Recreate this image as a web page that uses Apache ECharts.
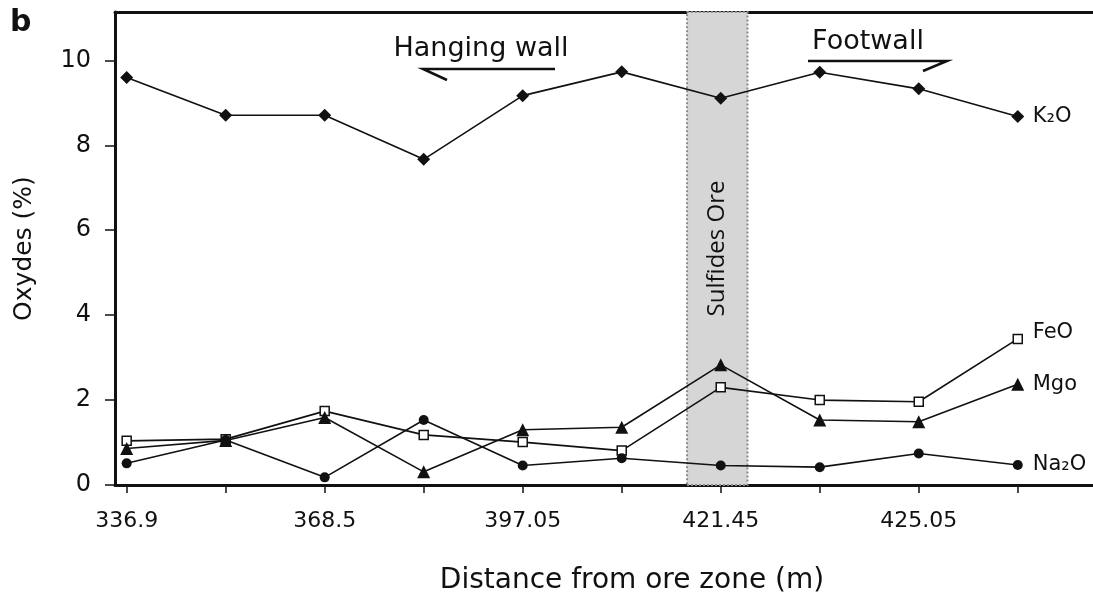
<!DOCTYPE html>
<html>
<head>
<meta charset="utf-8">
<script src="https://cdn.jsdelivr.net/npm/echarts@6/dist/echarts.min.js"></script>
<style>
  html, body { margin: 0; padding: 0; background: #fff; }
  #chart { width: 1093px; height: 596px; }
</style>
</head>
<body>
<div id="chart"></div>
<script>
// sample positions along the profile (one per analysed sample)
const samples = [0, 1, 2, 3, 4, 5, 6, 7, 8, 9]
// distance labels, only every other sample is labelled
const tickLabels = ['336.9', '', '368.5', '', '397.05', '', '421.45', '', '425.05', '']
const labelledSamples = [0, 2, 4, 6, 8]

const k2o = [9.60, 8.71, 8.71, 7.67, 9.17, 9.73, 9.11, 9.72, 9.33, 8.68]
const feo = [1.04, 1.08, 1.74, 1.18, 1.01, 0.81, 2.30, 2.00, 1.96, 3.44]
const mgo = [0.86, 1.05, 1.59, 0.31, 1.30, 1.36, 2.83, 1.53, 1.49, 2.37]
const na2o = [0.51, 1.06, 0.18, 1.53, 0.46, 0.63, 0.46, 0.42, 0.74, 0.47]

const yTicks = [0, 2, 4, 6, 8, 10]
// sulfides ore zone, in sample units
const oreZone = [5.66, 6.27]

const FONT = 'DejaVu Sans'
const INK = '#111'

const pair = arr => samples.map((s, i) => [s, arr[i]])

function lineSeries (name, label, data, symbol, size, fill, labelOffset) {
  return {
    name: name,
    type: 'line',
    data: pair(data),
    symbol: symbol,
    symbolSize: size,
    showAllSymbol: true,
    z: 3,
    lineStyle: { color: INK, width: 1.6 },
    itemStyle: { color: fill, borderColor: INK, borderWidth: fill === '#fff' ? 1.5 : 0 },
    endLabel: {
      show: true,
      formatter: label,
      color: INK,
      fontFamily: FONT,
      fontSize: 21,
      distance: 15,
      offset: labelOffset || [0, 0]
    },
    emphasis: { disabled: true }
  }
}

const chart = echarts.init(document.getElementById('chart'))
let option = {
  backgroundColor: '#fff',
  animation: false,
  grid: { left: 115, right: 0, top: 12, bottom: 111, outerBoundsMode: 'none', containLabel: false },
  xAxis: [
    {
      type: 'value',
      min: -0.118,
      max: 9.76,
      name: 'Distance from ore zone (m)',
      nameLocation: 'middle',
      nameGap: 82,
      nameMoveOverlap: false,
      nameTextStyle: { color: INK, fontFamily: FONT, fontSize: 28, padding: [0, 0, 0, 56] },
      axisLine: { show: true, onZero: false, lineStyle: { color: INK, width: 3 } },
      axisTick: { show: true, length: 8, customValues: samples, lineStyle: { color: INK, width: 1.5 } },
      axisLabel: {
        customValues: labelledSamples,
        formatter: v => tickLabels[Math.round(v)],
        color: INK,
        fontFamily: FONT,
        fontSize: 22,
        margin: 25
      },
      splitLine: { show: false }
    },
    {
      type: 'value',
      position: 'top',
      min: -0.118,
      max: 9.76,
      axisLine: { show: true, onZero: false, lineStyle: { color: INK, width: 3 } },
      axisTick: { show: false },
      axisLabel: { show: false },
      splitLine: { show: false }
    }
  ],
  yAxis: {
    type: 'value',
    min: 0,
    max: 11.14,
    name: 'Oxydes (%)',
    nameLocation: 'middle',
    nameGap: 78,
    nameMoveOverlap: false,
    nameTextStyle: { color: INK, fontFamily: FONT, fontSize: 25 },
    axisLine: { show: true, onZero: false, lineStyle: { color: INK, width: 3 } },
    axisTick: { show: true, length: 10, customValues: yTicks, lineStyle: { color: INK, width: 1.5 } },
    axisLabel: { customValues: yTicks, color: INK, fontFamily: FONT, fontSize: 24, margin: 24 },
    splitLine: { show: false }
  },
  series: [
    {
      name: 'ore',
      type: 'line',
      data: [],
      z: 1,
      markArea: {
        silent: true,
        itemStyle: { color: '#d6d6d6', borderColor: '#8a8a8a', borderType: 'dotted', borderWidth: 2 },
        label: {
          show: true,
          position: 'inside',
          rotate: 90,
          formatter: 'Sulfides Ore',
          color: INK,
          fontFamily: 'Open Sans',
          fontSize: 24
        },
        data: [[{ xAxis: oreZone[0] }, { xAxis: oreZone[1] }]]
      }
    },
    lineSeries('K2O', 'K₂O', k2o, 'diamond', [13, 13], INK),
    lineSeries('FeO', 'FeO', feo, 'rect', 9, '#fff', [0, -6]),
    lineSeries('MgO', 'Mgo', mgo, 'triangle', 13, INK),
    lineSeries('Na2O', 'Na₂O', na2o, 'circle', 10, INK)
  ],
  graphic: [
    { type: 'text', left: 10, top: 8, style: { text: 'b', fill: INK, font: 'bold 30px "' + FONT + '"' } },
    { type: 'text', x: 481, y: 49, style: { text: 'Hanging wall', fill: INK, font: '27px "' + FONT + '"', textAlign: 'center', textVerticalAlign: 'middle' } },
    { type: 'polyline', shape: { points: [[555, 69], [423, 69], [447, 80]] }, style: { stroke: INK, lineWidth: 2.5, fill: null } },
    { type: 'text', x: 868, y: 42, style: { text: 'Footwall', fill: INK, font: '27px "' + FONT + '"', textAlign: 'center', textVerticalAlign: 'middle' } },
    { type: 'polyline', shape: { points: [[808, 61], [947, 61], [923, 71]] }, style: { stroke: INK, lineWidth: 2.5, fill: null } }
  ]
}
chart.setOption(option)
</script>
</body>
</html>
